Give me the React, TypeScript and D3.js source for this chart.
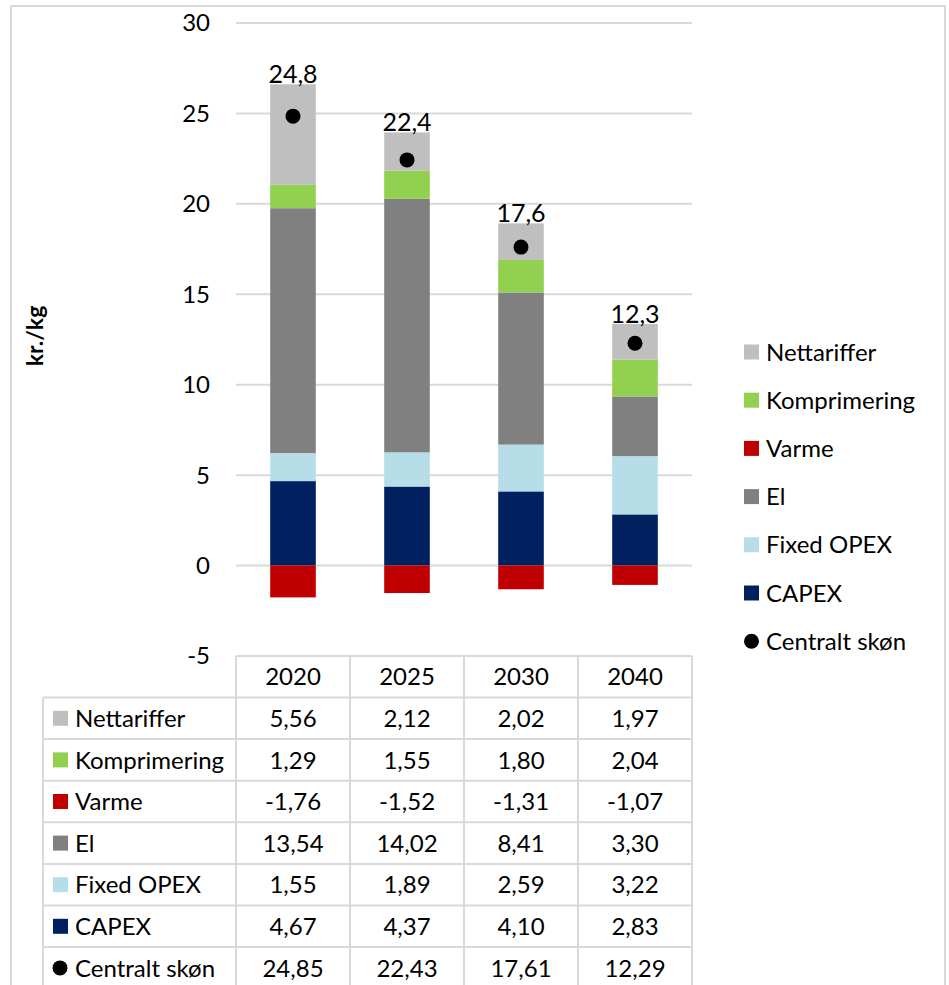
import React from "react";
import * as d3 from "d3";

const years = ["2020", "2025", "2030", "2040"];
const seriesNames = ["CAPEX", "Fixed OPEX", "El", "Varme", "Komprimering", "Nettariffer"];
const capex = [4.67, 4.37, 4.1, 2.83];
const fixedOpex = [1.55, 1.89, 2.59, 3.22];
const el = [13.54, 14.02, 8.41, 3.3];
const varme = [-1.76, -1.52, -1.31, -1.07];
const komprimering = [1.29, 1.55, 1.8, 2.04];
const nettariffer = [5.56, 2.12, 2.02, 1.97];
const centraltSkon = [24.85, 22.43, 17.61, 12.29];
const centraltLabels = ["24,8", "22,4", "17,6", "12,3"];
const yTicks = [-5, 0, 5, 10, 15, 20, 25, 30];

const colors: Record<string, string> = {
  CAPEX: "#002060",
  "Fixed OPEX": "#b7dee8",
  El: "#808080",
  Varme: "#c00000",
  Komprimering: "#92d050",
  Nettariffer: "#bfbfbf",
};

// legend + table order (top to bottom)
const listOrder = ["Nettariffer", "Komprimering", "Varme", "El", "Fixed OPEX", "CAPEX"];

const valuesOf: Record<string, number[]> = {
  CAPEX: capex,
  "Fixed OPEX": fixedOpex,
  El: el,
  Varme: varme,
  Komprimering: komprimering,
  Nettariffer: nettariffer,
};

const fmt = (v: number) => v.toFixed(2).replace(".", ",");
const FONT = "Lato, 'Open Sans', sans-serif";
const FS = 24;

export default function App() {
  const width = 949;
  const height = 985;
  const plot = { left: 236, right: 692, top: 23, bottom: 656 };

  const x = d3.scaleBand().domain(years).range([plot.left, plot.right]).paddingInner(0.6).paddingOuter(0.3);
  const band = d3.scaleBand().domain(years).range([plot.left, plot.right]);
  const y = d3.scaleLinear().domain([-5, 30]).range([plot.bottom, plot.top]);

  const rows = years.map((yr, i) => {
    const r: any = { year: yr };
    seriesNames.forEach((s) => (r[s] = valuesOf[s][i]));
    return r;
  });
  const stacked = d3.stack<any>().keys(seriesNames).offset(d3.stackOffsetDiverging)(rows);

  const rowH = 41.6;
  const headTop = 656;
  const bodyTop = 697.5;
  const tableLeft = 43;
  const tableRows = [...listOrder, "Centralt skøn"];
  const rowValues = (name: string) => (name === "Centralt skøn" ? centraltSkon : valuesOf[name]);
  const grid = "#d9d9d9";

  return (
    <div style={{ position: "absolute", left: 0, top: 0 }}>
      <svg width={width} height={height} style={{ display: "block", fontFamily: FONT }}>
        <rect x={0} y={0} width={width} height={height} fill="#fff" />
        <rect x={11} y={6} width={934} height={1000} fill="none" stroke={grid} strokeWidth={2} />

        {/* gridlines + y ticks */}
        {yTicks.map((t) => (
          <g key={t}>
            {t > -5 && (
              <line x1={plot.left} x2={plot.right} y1={y(t)} y2={y(t)} stroke={grid} strokeWidth={2} />
            )}
            <text x={210} y={y(t)} dy="0.35em" textAnchor="end" fontSize={FS} fill="#000">
              {t}
            </text>
          </g>
        ))}

        <text
          transform={`translate(43,336) rotate(-90)`}
          textAnchor="middle"
          fontSize={23}
          fontWeight="bold"
          fill="#000"
        >
          kr./kg
        </text>

        {/* bars */}
        {stacked.map((s) => (
          <g key={s.key} fill={colors[s.key]}>
            {s.map((d, i) => (
              <rect
                key={i}
                x={x(years[i])}
                width={x.bandwidth()}
                y={y(Math.max(d[0], d[1]))}
                height={Math.abs(y(d[0]) - y(d[1]))}
              />
            ))}
          </g>
        ))}

        {/* total labels at top of stacks */}
        {years.map((yr, i) => {
          const top = d3.max(stacked, (s) => Math.max(s[i][0], s[i][1])) as number;
          return (
            <text key={yr} x={x(yr)! + x.bandwidth() / 2} y={y(top) - 1} textAnchor="middle" fontSize={25} fill="#000">
              {centraltLabels[i]}
            </text>
          );
        })}

        {/* central estimate markers */}
        {years.map((yr, i) => (
          <circle key={yr} cx={x(yr)! + x.bandwidth() / 2} cy={y(centraltSkon[i])} r={7.5} fill="#000" />
        ))}

        {/* legend */}
        {[...listOrder, "Centralt skøn"].map((name, i) => {
          const cy = 352 + i * 48.2;
          return (
            <g key={name}>
              {name === "Centralt skøn" ? (
                <circle cx={751.5} cy={cy} r={7.5} fill="#000" />
              ) : (
                <rect x={744} y={cy - 7.5} width={15} height={15} fill={colors[name]} />
              )}
              <text x={766} y={cy} dy="0.36em" fontSize={FS} fill="#000">
                {name}
              </text>
            </g>
          );
        })}

        {/* data table */}
        <g stroke={grid} strokeWidth={2} fill="none">
          <line x1={plot.left} x2={plot.right} y1={headTop} y2={headTop} />
          {tableRows.map((_, j) => (
            <line key={j} x1={tableLeft} x2={plot.right} y1={bodyTop + j * rowH} y2={bodyTop + j * rowH} />
          ))}
          <line x1={tableLeft} x2={tableLeft} y1={bodyTop} y2={height + 10} />
          {years.map((yr) => (
            <line key={yr} x1={band(yr)} x2={band(yr)} y1={headTop} y2={height + 10} />
          ))}
          <line x1={plot.right} x2={plot.right} y1={headTop} y2={height + 10} />
        </g>

        {years.map((yr) => (
          <text
            key={yr}
            x={band(yr)! + band.bandwidth() / 2}
            y={(headTop + bodyTop) / 2}
            dy="0.36em"
            textAnchor="middle"
            fontSize={FS}
            fill="#000"
          >
            {yr}
          </text>
        ))}

        {tableRows.map((name, j) => {
          const cy = bodyTop + j * rowH + rowH / 2;
          const vals = rowValues(name);
          return (
            <g key={name}>
              {name === "Centralt skøn" ? (
                <circle cx={60} cy={cy} r={7.5} fill="#000" />
              ) : (
                <rect x={53} y={cy - 7.5} width={15} height={15} fill={colors[name]} />
              )}
              <text x={75} y={cy} dy="0.36em" fontSize={FS} fill="#000">
                {name}
              </text>
              {years.map((yr, i) => (
                <text
                  key={yr}
                  x={band(yr)! + band.bandwidth() / 2}
                  y={cy}
                  dy="0.36em"
                  textAnchor="middle"
                  fontSize={FS}
                  fill="#000"
                >
                  {fmt(vals[i])}
                </text>
              ))}
            </g>
          );
        })}
      </svg>
    </div>
  );
}
